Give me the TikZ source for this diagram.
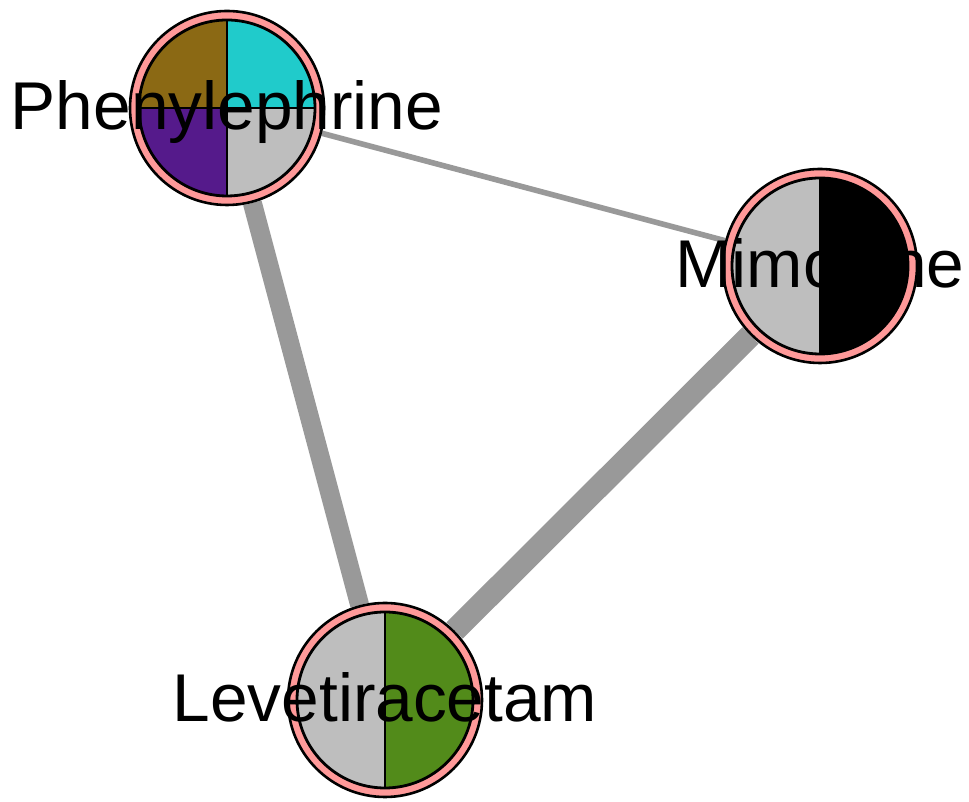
\documentclass[tikz,border=0pt]{standalone}
\usepackage{fontspec}
\setmainfont{Liberation Sans}
\usepackage{tikz}
\usetikzlibrary{positioning}
\usetikzlibrary{backgrounds}
\definecolor{ringpink}{RGB}{255,153,153}
\definecolor{edgegrey}{RGB}{153,153,153}
\definecolor{pieolive}{RGB}{139,105,20}
\definecolor{piecyan}{RGB}{32,203,203}
\definecolor{piepurple}{RGB}{85,26,139}
\definecolor{piegrey}{RGB}{190,190,190}
\definecolor{piegreen}{RGB}{82,139,26}
\tikzset{drug/.style = {circle, draw, line width=1.3pt, fill=ringpink,
                        minimum size=97pt, inner sep=0}}
\tikzset{slice/.style = {draw=black, line width=1.4pt}}
\tikzset{tie/.style = {draw=edgegrey, line cap=butt}}
\tikzset{druglabel/.style = {anchor=base, yshift=-11pt,
                             font=\fontsize{33.8}{40}\selectfont}}

\begin{document}
\begin{tikzpicture}[x=0.5pt, y=0.5pt]
      \useasboundingbox (0,0) rectangle (969,802);

      \node[drug] (phen) at (227,694) {};
      \node[drug] (mimo) at (820,536) {};
      \node[drug] (leve) at (385,102) {};

      \begin{pgfonlayer}{background}
        \draw[tie, line width=2.8pt] (phen) -- (mimo);
        \draw[tie, line width=9.5pt] (phen) -- (leve);
        \draw[tie, line width=11.5pt] (mimo) -- (leve);
      \end{pgfonlayer}

      % Phenylephrine: four slices
      \fill[piecyan] (phen.center) -- ++(0:88) arc[start angle=0, end angle=90, radius=88] -- cycle;
      \fill[pieolive] (phen.center) -- ++(90:88) arc[start angle=90, end angle=180, radius=88] -- cycle;
      \fill[piepurple] (phen.center) -- ++(180:88) arc[start angle=180, end angle=270, radius=88] -- cycle;
      \fill[piegrey] (phen.center) -- ++(270:88) arc[start angle=270, end angle=360, radius=88] -- cycle;
      \draw[slice] (phen.center) circle[radius=88];
      \draw[slice] ([yshift=44pt]phen.center) -- ([yshift=-44pt]phen.center);
      \draw[slice] ([xshift=-44pt]phen.center) -- ([xshift=44pt]phen.center);

      % Mimosine: two halves
      \fill[piegrey] (mimo.center) -- ++(90:88) arc[start angle=90, end angle=270, radius=88] -- cycle;
      \fill[black] (mimo.center) -- ++(270:88) arc[start angle=270, end angle=450, radius=88] -- cycle;
      \draw[slice] (mimo.center) circle[radius=88];
      \draw[slice] ([yshift=44pt]mimo.center) -- ([yshift=-44pt]mimo.center);

      % Levetiracetam: two halves
      \fill[piegrey] (leve.center) -- ++(90:88) arc[start angle=90, end angle=270, radius=88] -- cycle;
      \fill[piegreen] (leve.center) -- ++(270:88) arc[start angle=270, end angle=450, radius=88] -- cycle;
      \draw[slice] (leve.center) circle[radius=88];
      \draw[slice] ([yshift=44pt]leve.center) -- ([yshift=-44pt]leve.center);

      \node[druglabel] (phenname) at (phen.center) {Phenylephrine};
      \node[druglabel] (mimoname) at (mimo.center) {Mimosine};
      \node[druglabel] (levename) at (leve.center) {Levetiracetam};
    \end{tikzpicture}
\end{document}
